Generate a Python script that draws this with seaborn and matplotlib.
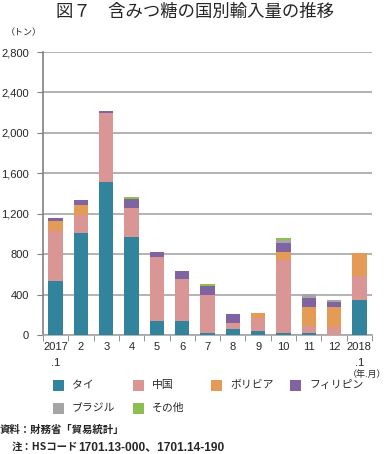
import numpy as np
import pandas as pd
import matplotlib
matplotlib.use("Agg")
import matplotlib.pyplot as plt
import seaborn as sns
from matplotlib.ticker import FuncFormatter, FixedLocator
from matplotlib.patches import Rectangle

months = ["2017\n.1", "2", "3", "4", "5", "6", "7", "8", "9", "10", "11", "12", "2018\n.1"]
series = ["タイ", "中国", "ボリビア", "フィリピン", "ブラジル", "その他"]
thai        = [539, 1012, 1517, 969, 142, 139, 15, 63, 43, 20, 23, 0, 350]
china       = [486, 178, 681, 291, 628, 416, 378, 56, 129, 724, 63, 79, 235]
bolivia     = [102, 96, 0, 0, 0, 0, 0, 0, 43, 79, 188, 195, 225]
philippines = [30, 50, 20, 82, 53, 76, 93, 86, 0, 83, 93, 53, 0]
brazil      = [0, 0, 0, 0, 0, 0, 0, 0, 0, 33, 40, 20, 0]
other       = [0, 0, 0, 20, 0, 0, 20, 0, 0, 23, 0, 0, 0]
colors = ["#31849B", "#D99694", "#E39B55", "#8064A2", "#A5A5A5", "#8CBF50"]

sns.set_style("white")
plt.rcParams['font.family'] = ['Liberation Sans', 'Noto Sans CJK JP', 'DejaVu Sans']
JP = ['Noto Sans CJK JP', 'DejaVu Sans']

values = [thai, china, bolivia, philippines, brazil, other]
cum = np.cumsum(np.array(values, dtype=float), axis=0)

W, H = 386, 454
fig = plt.figure(figsize=(W / 100, H / 100), dpi=100)
ax = fig.add_axes([43 / W, 1 - 335 / H, 329 / W, 283 / H])

for i in range(len(series) - 1, -1, -1):
    df = pd.DataFrame({"month": months, "v": cum[i]})
    sns.barplot(data=df, x="month", y="v", color=colors[i], width=0.57,
                saturation=1, linewidth=0, edgecolor="none", ax=ax,
                zorder=3 + (len(series) - i) * 0.01)

ax.set_xlim(-0.5, 12.5)
ax.set_ylim(0, 2800)
ax.set_yticks(np.arange(0, 2801, 400))
ax.yaxis.set_major_formatter(FuncFormatter(lambda v, p: f"{int(v):,}"))
ax.grid(axis="y", color="#A6A6A6", linewidth=1.2, zorder=0)
ax.set_axisbelow(True)
ax.set_xlabel("")
ax.set_ylabel("")
for s in ["top", "right"]:
    ax.spines[s].set_visible(False)
ax.spines["left"].set_color("#808080")
ax.spines["left"].set_linewidth(1.2)
ax.spines["bottom"].set_color("#A6A6A6")
ax.spines["bottom"].set_linewidth(1.2)
ax.tick_params(axis="y", labelsize=8, length=4, color="#808080", pad=6, left=True)
ax.tick_params(axis="x", which="major", labelsize=8, length=0, pad=5, bottom=False)
ax.set_xticks(range(13))
ax.set_xticklabels(months, linespacing=1.75, va="top")
ax.xaxis.set_minor_locator(FixedLocator(np.arange(-0.5, 13, 1)))
ax.tick_params(axis="x", which="minor", length=4, color="#808080", bottom=True, direction="out")

fig.text(195 / W, 1 - 12 / H, "図７　含みつ糖の国別輸入量の推移", ha="center", va="center",
         fontsize=12.5, family=JP)
fig.text(6 / W, 1 - 33 / H, "（トン）", ha="left", va="center", fontsize=6.5, family=JP)
fig.text(386 / W, 1 - 374 / H, "（年.月）", ha="right", va="center", fontsize=6.5, family=JP)

# legend (row-major, 4 columns)
col_x = [53, 133, 211, 290]
row_y = [385, 408]
for k, (name, c) in enumerate(zip(series, colors)):
    r, cidx = divmod(k, 4)
    x0, yc = col_x[cidx], row_y[r]
    fig.add_artist(Rectangle((x0 / W, 1 - (yc + 5.5) / H), 11 / W, 11 / H,
                             transform=fig.transFigure, facecolor=c, edgecolor="none"))
    fig.text((x0 + 19) / W, 1 - yc / H, name, ha="left", va="center", fontsize=7.8, family=JP)

fig.text(0 / W, 1 - 430 / H, "資料：財務省「貿易統計」", ha="left", va="center",
         fontsize=7.5, fontweight="bold", family=JP)
t1 = fig.text(12 / W, 1 - 447 / H, "注：HSコード", ha="left", va="center",
              fontsize=7.5, fontweight="bold", family=JP)
fig.add_artist(matplotlib.text.Annotation(
    "1701.13-000、1701.14-190", xy=(1, 0.5), xycoords=t1,
    xytext=(0, 0), textcoords="offset points", ha="left", va="center",
    fontsize=8.6, fontweight="bold", annotation_clip=False))

fig.savefig("out.png", dpi=100)
